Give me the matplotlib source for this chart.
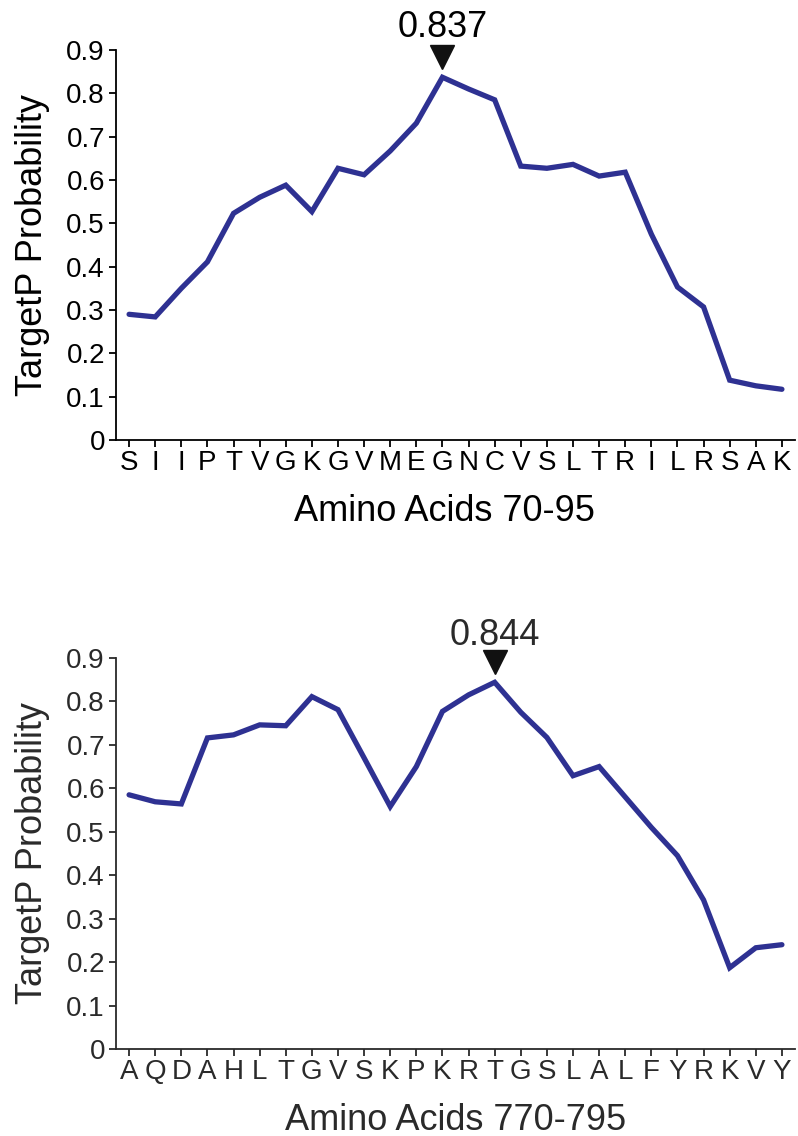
import matplotlib
matplotlib.use("Agg")
import matplotlib.pyplot as plt
from matplotlib.transforms import ScaledTranslation

plt.rcParams['font.family'] = ['Liberation Sans', 'DejaVu Sans']

# ---- data ----
top_labels = ["S", "I", "I", "P", "T", "V", "G", "K", "G", "V", "M", "E", "G",
              "N", "C", "V", "S", "L", "T", "R", "I", "L", "R", "S", "A", "K"]
top_values = [0.290, 0.284, 0.350, 0.411, 0.523, 0.560, 0.588, 0.527, 0.627, 0.612,
              0.667, 0.731, 0.837, 0.810, 0.785, 0.632, 0.627, 0.636, 0.609, 0.618,
              0.475, 0.353, 0.307, 0.138, 0.125, 0.117]
top_xlabel = "Amino Acids 70-95"
top_peak_label = "0.837"

bot_labels = ["A", "Q", "D", "A", "H", "L", "T", "G", "V", "S", "K", "P", "K",
              "R", "T", "G", "S", "L", "A", "L", "F", "Y", "R", "K", "V", "Y"]
bot_values = [0.585, 0.569, 0.564, 0.716, 0.723, 0.746, 0.744, 0.811, 0.781, 0.670,
              0.558, 0.650, 0.777, 0.815, 0.844, 0.775, 0.717, 0.629, 0.650, 0.580,
              0.510, 0.445, 0.343, 0.187, 0.233, 0.240]
bot_xlabel = "Amino Acids 770-795"
bot_peak_label = "0.844"

yticks = [0, 0.1, 0.2, 0.3, 0.4, 0.5, 0.6, 0.7, 0.8, 0.9]
ytick_labels = ["0", "0.1", "0.2", "0.3", "0.4", "0.5", "0.6", "0.7", "0.8", "0.9"]
ylabel = "TargetP Probability"

LINE_COLOR = "#2E3192"

fig = plt.figure(figsize=(7.98, 11.36), dpi=100)
ax1 = fig.add_axes([0.1454, 0.6127, 0.8508, 0.3433])
ax2 = fig.add_axes([0.1454, 0.0766, 0.8508, 0.3442])


def draw(ax, labels, values, xlabel, peak_label, txtcol, text_off, xlab_x):
    x = list(range(len(values)))
    ax.plot(x, values, color=LINE_COLOR, lw=3.8, solid_capstyle='round',
            solid_joinstyle='miter')
    ax.set_xlim(-0.5, len(values) - 0.5)
    ax.set_ylim(0, 0.9)
    ax.set_yticks(yticks)
    ax.set_yticklabels(ytick_labels)
    ax.set_xticks(x)
    ax.set_xticklabels(labels)
    for s in ["top", "right"]:
        ax.spines[s].set_visible(False)
    for s in ["left", "bottom"]:
        ax.spines[s].set_color(txtcol)
        ax.spines[s].set_linewidth(1.3)
    ax.tick_params(axis='y', labelsize=20, length=5, width=1.3, color=txtcol,
                   labelcolor=txtcol, pad=3)
    ax.tick_params(axis='x', labelsize=20, length=5, width=1.3, color=txtcol,
                   labelcolor=txtcol, pad=2)
    ax.set_ylabel(ylabel, fontsize=26, color=txtcol, labelpad=12)
    ax.set_xlabel(xlabel, fontsize=26, color=txtcol)
    ax.xaxis.set_label_coords(xlab_x, -0.138)

    # peak marker and label
    i = max(range(len(values)), key=lambda k: values[k])
    tr = ax.transData + ScaledTranslation(0, 0.20, fig.dpi_scale_trans)
    ax.plot([i], [values[i]], marker='v', markersize=17, color="#111111",
            transform=tr, clip_on=False, linestyle='none')
    ax.annotate(peak_label, xy=(i, values[i]), xytext=(0, text_off),
                textcoords='offset points', ha='center', va='baseline',
                fontsize=26, color=txtcol, annotation_clip=False)


draw(ax1, top_labels, top_values, top_xlabel, top_peak_label, "#000000", 29, 0.483)
draw(ax2, bot_labels, bot_values, bot_xlabel, bot_peak_label, "#2a2a2a", 27, 0.5)

fig.savefig("out.png", dpi=100)
